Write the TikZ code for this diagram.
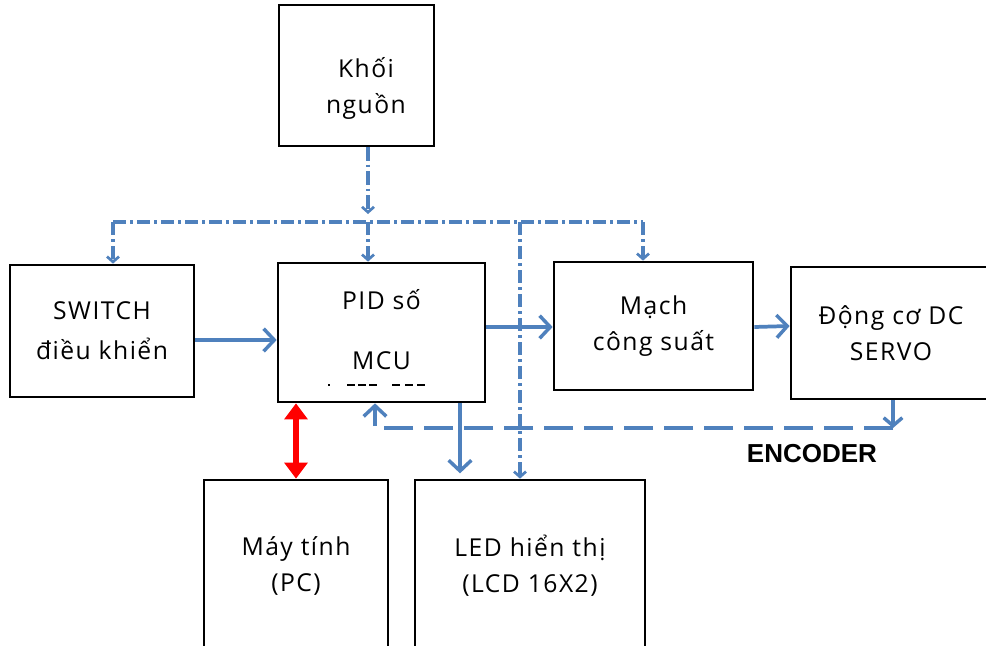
\documentclass[tikz,border=0pt]{standalone}
\usepackage{fontspec}
\setmainfont[LetterSpace=6]{Open Sans}
\newfontfamily\encfont{Liberation Sans}
\usetikzlibrary{positioning,arrows.meta,calc}
\definecolor{linkblue}{HTML}{4F81BD}
\definecolor{boxblack}{HTML}{000000}
\definecolor{pcred}{HTML}{FF0000}
\tikzset{
	block/.style={draw=boxblack, line width=2pt, fill=white, align=center, inner sep=0pt, font=\fontsize{18.5}{27}\selectfont},
	boxtext/.style={align=center, font=\fontsize{18.5}{27}\selectfont, inner sep=0pt},
	pwr/.style={draw=linkblue, line width=2.6pt, dash pattern=on 10pt off 3pt on 2pt off 3pt},
	pwrtip/.style={-{Straight Barb[length=4pt,width=9pt,line width=2pt]}},
	sig/.style={draw=linkblue, line width=2.8pt, -{Straight Barb[length=8pt,width=17pt,line width=2.6pt]}},
	fb/.style={draw=linkblue, line width=2.8pt, dash pattern=on 22pt off 8pt},
	pclink/.style={draw=pcred, line width=5pt, {Triangle[length=12pt,width=17pt]}-{Triangle[length=12pt,width=17pt]}}
}

\begin{document}
\begin{tikzpicture}[x=0.75pt,y=-0.75pt]
	% fixed canvas, pixel grid of the reference (y grows downward)
	\path[use as bounding box] (0,0) rectangle (986,646);
	\fill[white] (0,0) rectangle (986,646);

	% blocks
	\node[block, minimum width=155*0.75pt, minimum height=141*0.75pt] (power) at (356.5,75.5) {};
	\node[boxtext] (powertext) at (366,88) {Khối\\nguồn};
	\node[block, minimum width=184*0.75pt, minimum height=132*0.75pt, font=\fontsize{18.5}{30}\selectfont] (switch) at (102,331) {SWITCH\\điều khiển};
	\node[block, minimum width=207*0.75pt, minimum height=139*0.75pt] (pid) at (381.5,332.5) {};
	\node[boxtext, font=\fontsize{18.5}{45}\selectfont] (pidtext) at (381.5,330) {PID số\\MCU};
	% cut-off line under MCU
	\foreach \xa/\xb in {328/330, 347/355, 358/366, 369/377, 392/400, 405/413, 417/425}
		\draw[boxblack, line width=1pt] (\xa,385) -- (\xb,385);
	\node[block, minimum width=199*0.75pt, minimum height=128*0.75pt] (mach) at (653.5,326) {Mạch\\công suất};
	\node[block, minimum width=200*0.75pt, minimum height=132*0.75pt] (motor) at (891,333) {Động cơ DC\\SERVO};
	\node[block, minimum width=184*0.75pt, minimum height=172*0.75pt] (pc) at (296,566) {Máy tính\\(PC)};
	\node[block, minimum width=230*0.75pt, minimum height=172*0.75pt] (led) at (530,566) {LED hiển thị\\(LCD 16X2)};

	% power bus
	\coordinate (bus) at (368,222);
	\coordinate (busL) at (113,222);
	\coordinate (busM) at (520,222);
	\coordinate (busR) at (643,222);
	\draw[pwr, pwrtip, shorten >=6pt] (power.south -| bus) -- (bus);
	\draw[pwr] (busL) -- (busR);
	\draw[pwr, pwrtip] (bus) -- (bus |- pid.north);
	\draw[pwr, pwrtip] (busL) -- (busL |- switch.north);
	\draw[pwr, pwrtip] (busR) -- (busR |- mach.north);
	\draw[pwr, pwrtip] (busM) -- (busM |- led.north);

	% signal path
	\draw[sig] ($(switch.east)+(0,9)$) -- ($(pid.west)+(0,7.5)$);
	\draw[sig] ($(pid.east)+(0,-5.5)$) -- ($(mach.west)+(0,1)$);
	\draw[sig] ($(mach.east)+(0,1)$) -- (mach.east -| motor.west);
	\draw[sig, shorten >=4pt] ($(pid.south)+(78.5,0)$) -- ($(led.north)+(-70,0)$);

	% PC link
	\draw[pclink] (pc.north) -- (pc.north |- pid.south);

	% encoder feedback
	\coordinate (enc) at (893,428);
	\coordinate (encL) at (375,428);
	\draw[sig, -{Straight Barb[length=6pt,width=14pt,line width=2.6pt]}] (motor.south -| enc) -- (enc);
	\draw[fb, -{Straight Barb[length=8pt,width=17pt,line width=2.6pt]}] (enc) -- (encL) -- (encL |- pid.south);
	\node[font=\encfont\bfseries\fontsize{19.5}{20}\selectfont, inner sep=0pt] (enclabel) at (812,454) {ENCODER};
\end{tikzpicture}
\end{document}
